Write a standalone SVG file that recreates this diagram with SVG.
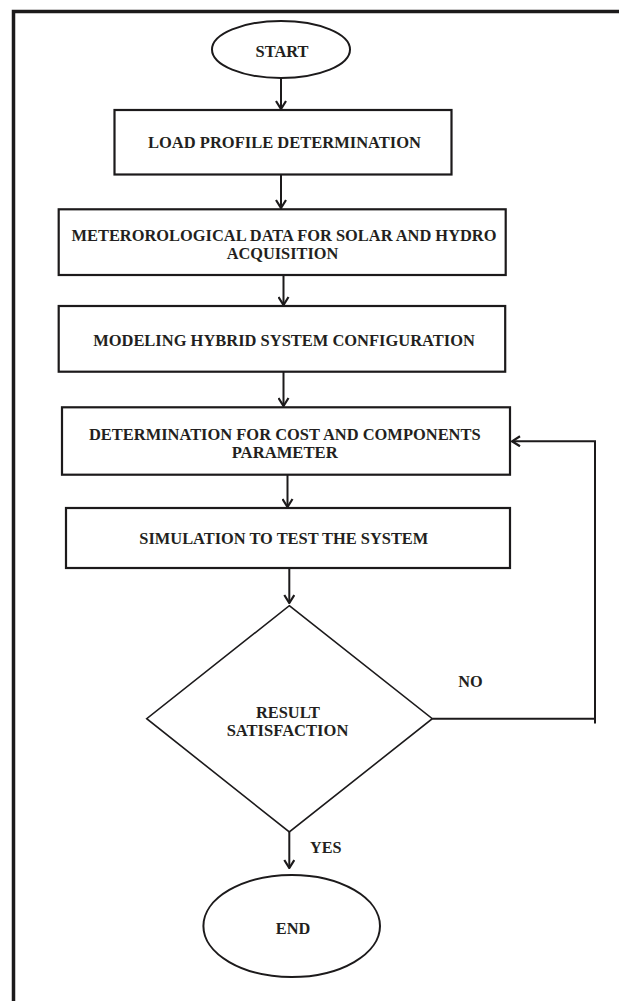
<svg xmlns="http://www.w3.org/2000/svg" width="619" height="1001" viewBox="0 0 619 1001">
  <style>
    .frame { fill: none; stroke: #1c1a1b; stroke-width: 3.5; }
    .box { fill: #ffffff; stroke: #1c1a1b; stroke-width: 2.2; }
    .oval { fill: #ffffff; stroke: #1c1a1b; stroke-width: 2; }
    .diamond { fill: #ffffff; stroke: #1c1a1b; stroke-width: 1.6; }
    .link { fill: none; stroke: #1c1a1b; stroke-width: 2; }
    .label { font-family: "Liberation Serif", "Times New Roman", serif; font-weight: bold; font-size: 17.5px; fill: #231f20; text-anchor: middle; }
    .tag { font-family: "Liberation Serif", "Times New Roman", serif; font-weight: bold; font-size: 17.5px; fill: #231f20; }
  </style>
  <defs>
    <marker id="head" viewBox="0 0 10 12" markerWidth="10" markerHeight="12" refX="9" refY="6" orient="auto" markerUnits="userSpaceOnUse">
      <path d="M1,1 L9,6 L1,11" fill="none" stroke="#1c1a1b" stroke-width="2.2" stroke-linejoin="miter"/>
    </marker>
  </defs>

  <rect width="619" height="1001" fill="#ffffff"/>

  <!-- outer frame (top and left edges) -->
  <path class="frame" d="M13.5,1001 V11.5 H619"/>

  <!-- connectors -->
  <g id="connectors">
    <line class="link" x1="281" y1="78" x2="281" y2="109" marker-end="url(#head)"/>
    <line class="link" x1="281" y1="174" x2="281" y2="208" marker-end="url(#head)"/>
    <line class="link" x1="283.5" y1="275" x2="283.5" y2="305" marker-end="url(#head)"/>
    <line class="link" x1="283.5" y1="372" x2="283.5" y2="406" marker-end="url(#head)"/>
    <line class="link" x1="287.5" y1="475" x2="287.5" y2="507" marker-end="url(#head)"/>
    <line class="link" x1="289.3" y1="568" x2="289.3" y2="603" marker-end="url(#head)"/>
    <line class="link" x1="289.3" y1="832" x2="289.3" y2="868" marker-end="url(#head)"/>
    <path class="link" d="M432.3,718.7 H595"/>
    <path class="link" d="M595,723.5 V441.3 H512" marker-end="url(#head)"/>
  </g>

  <g id="start">
    <ellipse class="oval" cx="281" cy="49.5" rx="69" ry="28.5"/>
    <text class="label" x="282" y="57" textLength="53" lengthAdjust="spacingAndGlyphs">START</text>
  </g>

  <g id="load-profile">
    <rect class="box" x="114.5" y="110" width="337" height="64.5"/>
    <text class="label" x="284.5" y="148" textLength="273" lengthAdjust="spacingAndGlyphs">LOAD PROFILE DETERMINATION</text>
  </g>

  <g id="met-data">
    <rect class="box" x="58.7" y="209.3" width="447" height="65.7"/>
    <text class="label" x="284" y="240.5" textLength="425" lengthAdjust="spacingAndGlyphs">METEROROLOGICAL DATA FOR SOLAR AND HYDRO</text>
    <text class="label" x="282.5" y="259.3" textLength="111.7" lengthAdjust="spacingAndGlyphs">ACQUISITION</text>
  </g>

  <g id="modeling">
    <rect class="box" x="58.7" y="306" width="446.5" height="65.7"/>
    <text class="label" x="284" y="346" textLength="381.7" lengthAdjust="spacingAndGlyphs">MODELING HYBRID SYSTEM CONFIGURATION</text>
  </g>

  <g id="cost-params">
    <rect class="box" x="62" y="407.3" width="448" height="67.4"/>
    <text class="label" x="284.8" y="439.6" textLength="391.7" lengthAdjust="spacingAndGlyphs">DETERMINATION FOR COST AND COMPONENTS</text>
    <text class="label" x="284.7" y="458.4" textLength="106" lengthAdjust="spacingAndGlyphs">PARAMETER</text>
  </g>

  <g id="simulation">
    <rect class="box" x="66" y="508" width="444" height="60"/>
    <text class="label" x="283.8" y="543.5" textLength="289" lengthAdjust="spacingAndGlyphs">SIMULATION TO TEST THE SYSTEM</text>
  </g>

  <g id="decision">
    <polygon class="diamond" points="289.3,605.7 432.3,718.7 289.3,832 146.7,718.7"/>
    <text class="label" x="288" y="717.5" textLength="64" lengthAdjust="spacingAndGlyphs">RESULT</text>
    <text class="label" x="287.5" y="736.3" textLength="121.7" lengthAdjust="spacingAndGlyphs">SATISFACTION</text>
  </g>

  <g id="branch-labels">
    <text class="tag" x="458.3" y="687.2" textLength="24.4" lengthAdjust="spacingAndGlyphs">NO</text>
    <text class="tag" x="310" y="852.5" textLength="31.5" lengthAdjust="spacingAndGlyphs">YES</text>
  </g>

  <g id="end">
    <ellipse class="oval" cx="291.7" cy="926" rx="88.3" ry="51"/>
    <text class="label" x="293" y="934" textLength="34.4" lengthAdjust="spacingAndGlyphs">END</text>
  </g>
</svg>
